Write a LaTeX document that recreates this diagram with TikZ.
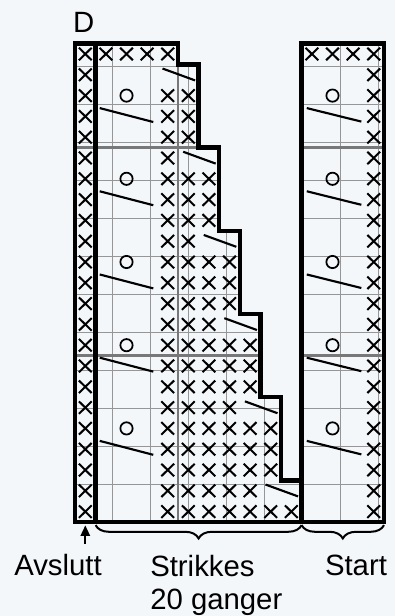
\documentclass[tikz,border=0pt]{standalone}
\usepackage{fontspec}
\setmainfont{Liberation Sans}
\usepackage{tikz}
\usetikzlibrary{arrows.meta,decorations.pathreplacing}

\definecolor{chartbg}{RGB}{244,247,250}
\definecolor{gridgray}{RGB}{150,150,150}
\definecolor{tengray}{RGB}{120,120,120}

% one stitch symbol per cell, (col,row) = lower left corner
\newcommand{\xcell}[2]{\draw[xstroke] (#1+0.19,#2+0.2) -- (#1+0.81,#2+0.8)
  (#1+0.19,#2+0.8) -- (#1+0.81,#2+0.2);}
\newcommand{\ocell}[2]{\draw[ostroke] (#1+0.5,#2+0.5) circle[radius=4.6pt];}
\newcommand{\slashtwo}[2]{\draw[slash] (#1+0.25,#2+0.8) -- (#1+1.83,#2+0.23);}

\begin{document}
\begin{tikzpicture}[x=15.45pt, y=15.6pt,
  every node/.style={font=\fontsize{22}{25}\selectfont, inner sep=0pt},
  outline/.style={line width=3.4pt, line join=miter},
  thingrid/.style={gridgray, line width=0.8pt},
  tengrid/.style={tengray, line width=1.8pt},
  xstroke/.style={line width=1.5pt},
  ostroke/.style={line width=1.3pt},
  slash/.style={line width=1.6pt},
  repbrace/.style={decorate, decoration={brace, mirror, amplitude=10pt}, line width=1.5pt}]

  \fill[chartbg] (-3.641,-4.519) rectangle (15.534,25.096);
  \useasboundingbox (-3.641,-4.519) rectangle (15.534,25.096);

  % grid, left part (clipped to the staircase)
  \begin{scope}
    \clip (0,0) -- (0,23) -- (5,23) -- (5,22) -- (6,22) -- (6,18) -- (7,18)
      -- (7,14) -- (8,14) -- (8,10) -- (9,10) -- (9,6) -- (10,6) -- (10,2)
      -- (11,2) -- (11,0) -- cycle;
    \draw[thingrid] (0,0) grid (11,23);
    \draw[tengrid] (0,18) -- (11,18) (0,8) -- (11,8) (5,0) -- (5,23);
  \end{scope}
  % grid, start part
  \draw[thingrid] (11,0) grid (15,23);
  \draw[tengrid] (11,18) -- (15,18) (11,8) -- (15,8);

  % edge stitches
  \foreach \y in {0,...,22}{\xcell{0}{\y} \xcell{14}{\y}}
  \foreach \c in {1,...,4,11,12,13}{\xcell{\c}{22}}

  % eyelets and long slashes
  \foreach \y in {20,16,12,8,4}{
    \ocell{2}{\y} \ocell{12}{\y}
    \draw[slash] (1.2,\y-0.1) -- (3.8,\y-0.77);
    \draw[slash] (11.25,\y-0.1) -- (13.9,\y-0.75);
  }

  % staircase
  \foreach \k in {0,...,5}{
    \pgfmathtruncatemacro{\yf}{21-4*\k}
    \pgfmathtruncatemacro{\lastx}{3+\k}
    \pgfmathtruncatemacro{\bnd}{5+\k}
    \pgfmathtruncatemacro{\ylow}{max(\yf-3,0)}
    \pgfmathtruncatemacro{\yup}{\yf-1}
    \ifnum\k>0 \foreach \c in {4,...,\lastx}{\xcell{\c}{\yf}} \fi
    \slashtwo{\lastx+1}{\yf}
    \foreach \y in {\ylow,...,\yup}{\foreach \c in {4,...,\bnd}{\xcell{\c}{\y}}}
  }

  % outlines
  \draw[outline] (0,0) -- (0,23) -- (5,23) -- (5,22) -- (6,22) -- (6,18) -- (7,18)
    -- (7,14) -- (8,14) -- (8,10) -- (9,10) -- (9,6) -- (10,6) -- (10,2)
    -- (11,2) -- (11,0) -- cycle;
  \draw[outline] (1,0) -- (1,23);
  \draw[outline] (11,0) rectangle (15,23);

  % labels
  \node[anchor=base west] (dlabel) at (-0.1,23.51) {D};
  \node[anchor=base] (avslutt) at (-0.825,-2.55) {Avslutt};
  \node[anchor=base west, align=left] (strikkes) at (3.64,-4.23) {Strikkes\\20 ganger};
  \node[anchor=base] (start) at (13.64,-2.55) {Start};

  \coordinate (repleft) at (1,-0.15);
  \coordinate (repright) at (11,-0.15);
  \coordinate (startright) at (15,-0.15);
  \coordinate (arrowtail) at (0.5,-1.05);
  \coordinate (arrowtip) at (0.5,-0.16);

  \draw[repbrace] (repleft) -- (repright);
  \draw[repbrace] (repright) -- (startright);
  \draw[-{Triangle[length=8pt,width=7pt]}, line width=1.6pt] (arrowtail) -- (arrowtip);
\end{tikzpicture}
\end{document}
